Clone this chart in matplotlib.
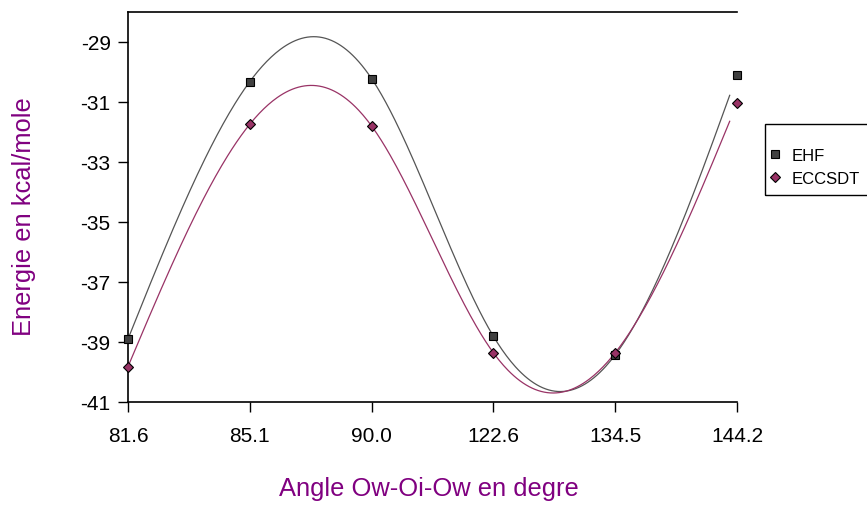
import numpy as np
import matplotlib
matplotlib.use("Agg")
import matplotlib.pyplot as plt
from matplotlib.lines import Line2D
from matplotlib.patches import Rectangle

plt.rcParams['font.family'] = ['Liberation Sans', 'DejaVu Sans']

categories = ["81.6", "85.1", "90.0", "122.6", "134.5", "144.2"]
ehf = [-38.90, -30.32, -30.22, -38.81, -39.43, -30.10]
eccsdt = [-39.82, -31.74, -31.80, -39.36, -39.36, -31.05]
yticks = [-41, -39, -37, -35, -33, -31, -29]

purple = "#800080"
gray = "#404040"
curve_gray = "#555555"
maroon = "#993366"
W, H = 867, 506


def natural_spline(y, xs):
    y = np.asarray(y, float)
    n = len(y)
    A = np.zeros((n, n))
    b = np.zeros(n)
    A[0, 0] = A[-1, -1] = 1.0
    for i in range(1, n - 1):
        A[i, i - 1], A[i, i], A[i, i + 1] = 1.0, 4.0, 1.0
        b[i] = 6.0 * (y[i + 1] - 2 * y[i] + y[i - 1])
    M = np.linalg.solve(A, b)
    i = np.clip(np.floor(xs).astype(int), 0, n - 2)
    t = xs - i
    return ((1 - t) * y[i] + t * y[i + 1]
            + ((1 - t) ** 3 - (1 - t)) * M[i] / 6.0
            + (t ** 3 - t) * M[i + 1] / 6.0)


fig = plt.figure(figsize=(W / 100, H / 100), dpi=100)
ax = fig.add_axes([128/W, 1 - 403/H, (737-128)/W, (403-13)/H])

x = np.arange(len(categories))
xs = np.linspace(0, len(categories) - 1.06, 400)
for vals, col in ((ehf, curve_gray), (eccsdt, maroon)):
    ax.plot(xs, natural_spline(vals, xs), color=col, lw=0.9, zorder=2)

ax.plot(x, ehf, ls='none', marker='s', ms=6.3, mfc=gray, mec='black', mew=0.8, zorder=3, clip_on=False)
ax.plot(x, eccsdt, ls='none', marker='D', ms=5.5, mfc=maroon, mec='black', mew=0.8, zorder=3, clip_on=False)

ax.set_xlim(0, len(categories) - 1)
ax.set_ylim(-41, -28)
ax.set_xticks(x)
ax.set_xticklabels(categories)
ax.set_yticks(yticks)
ax.set_yticklabels([str(v) for v in yticks])
ax.tick_params(axis='both', labelsize=15, length=7.5, width=1, direction='out', colors='black')
ax.tick_params(axis='x', pad=10)
ax.tick_params(axis='y', pad=5)
ax.spines['right'].set_visible(False)
for s in ('left', 'bottom', 'top'):
    ax.spines[s].set_linewidth(1.2)

ax.set_ylabel("Energie en kcal/mole", color=purple, fontsize=18.4)
ax.yaxis.set_label_coords(-0.151, 0.478)
ax.set_xlabel("Angle Ow-Oi-Ow en degre", color=purple, fontsize=18.4)
ax.xaxis.set_label_coords(0.494, -0.19)

# legend frame (extends past right edge of figure)
fig.patches.append(Rectangle((765/W, 1 - 196/H), 120/W, 71/H, transform=fig.transFigure,
                             fill=False, edgecolor='black', lw=1.0, clip_on=False))
handles = [
    Line2D([], [], ls='none', marker='s', ms=6.3, mfc=gray, mec='black', mew=0.8),
    Line2D([], [], ls='none', marker='D', ms=5.5, mfc=maroon, mec='black', mew=0.8),
]
leg = fig.legend(handles, ["EHF", "ECCSDT"], loc='center left',
                 bbox_to_anchor=(767/W, 1 - 168/H), fontsize=12,
                 frameon=False, handlelength=1.0, handletextpad=0.45,
                 borderpad=0.0, borderaxespad=0.0, labelspacing=0.45)

fig.savefig("out.png", dpi=100)
